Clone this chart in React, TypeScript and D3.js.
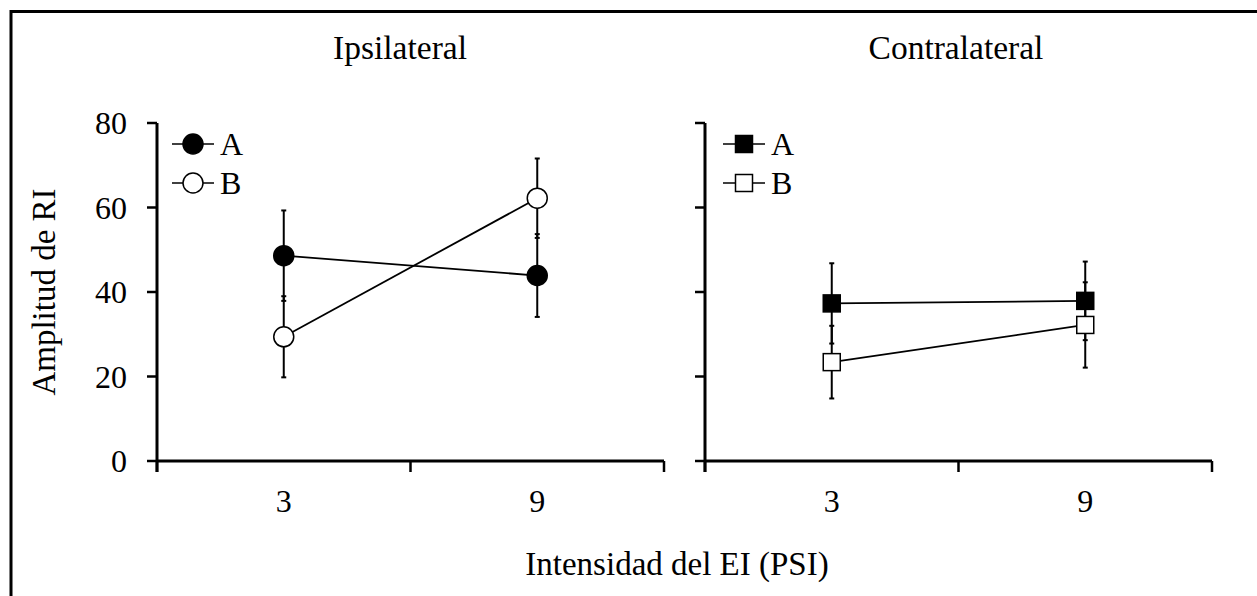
import React from "react";
import * as d3 from "d3";

// Stimulus intensities (PSI) on the x axis
const intensities = ["3", "9"];
const yTicks = [0, 20, 40, 60, 80];
const panelTitles = ["Ipsilateral", "Contralateral"];
const seriesNames = ["A", "B"];

// Ipsilateral: mean response amplitude and error per intensity
const ipsiA = [48.6, 43.9];
const ipsiAErr = [10.7, 9.8];
const ipsiB = [29.4, 62.2];
const ipsiBErr = [9.6, 9.4];

// Contralateral
const contraA = [37.3, 37.9];
const contraAErr = [9.5, 9.3];
const contraB = [23.4, 32.2];
const contraBErr = [8.6, 10.1];

const W = 1257;
const H = 596;
const FONT = "'Liberation Serif', 'Times New Roman', serif";

type Series = { name: string; values: number[]; errs: number[]; filled: boolean };

const panels = [
  {
    title: panelTitles[0],
    titleX: 400,
    x0: 157,
    x1: 664,
    shape: "circle",
    series: [
      { name: seriesNames[0], values: ipsiA, errs: ipsiAErr, filled: true },
      { name: seriesNames[1], values: ipsiB, errs: ipsiBErr, filled: false },
    ] as Series[],
    legendX: 193,
  },
  {
    title: panelTitles[1],
    titleX: 956,
    x0: 705,
    x1: 1212,
    shape: "square",
    series: [
      { name: seriesNames[0], values: contraA, errs: contraAErr, filled: true },
      { name: seriesNames[1], values: contraB, errs: contraBErr, filled: false },
    ] as Series[],
    legendX: 744,
  },
];

const y = d3.scaleLinear().domain([0, 80]).range([461, 123]);

function Marker({ shape, cx, cy, filled }: { shape: string; cx: number; cy: number; filled: boolean }) {
  const fill = filled ? "#000" : "#fff";
  if (shape === "circle") {
    return <circle cx={cx} cy={cy} r={10} fill={fill} stroke="#000" strokeWidth={1.5} />;
  }
  const s = 17;
  return <rect x={cx - s / 2} y={cy - s / 2} width={s} height={s} fill={fill} stroke="#000" strokeWidth={1.5} />;
}

export default function App() {
  const line = d3.line<[number, number]>();
  return (
    <svg
      width={W}
      height={H}
      style={{ position: "absolute", left: 0, top: 0, display: "block", background: "#fff" }}
      fontFamily={FONT}
    >
      <rect x={11} y={11.5} width={W + 20} height={H + 20} fill="none" stroke="#000" strokeWidth={3} />

      {panels.map((p, pi) => {
        const x = d3.scaleBand<string>().domain(intensities).range([p.x0, p.x1]);
        const cx = (c: string) => (x(c) as number) + x.bandwidth() / 2;
        const boundaries = [p.x0, p.x0 + x.bandwidth(), p.x1];
        return (
          <g key={pi}>
            <text x={p.titleX} y={59} fontSize={33.5} textAnchor="middle">
              {p.title}
            </text>

            {/* y axis */}
            <line x1={p.x0} x2={p.x0} y1={y(80)} y2={y(0) + 11} stroke="#000" strokeWidth={3} />
            {yTicks.map((t) => (
              <g key={t}>
                <line x1={p.x0 - 10} x2={p.x0} y1={y(t)} y2={y(t)} stroke="#000" strokeWidth={2.5} />
                {pi === 0 && (
                  <text x={127} y={y(t) + 11} fontSize={32} textAnchor="end">
                    {t}
                  </text>
                )}
              </g>
            ))}

            {/* x axis */}
            <line x1={p.x0} x2={p.x1} y1={y(0)} y2={y(0)} stroke="#000" strokeWidth={3} />
            {boundaries.map((b, i) => (
              <line key={i} x1={b} x2={b} y1={y(0)} y2={y(0) + 11} stroke="#000" strokeWidth={2.5} />
            ))}
            {intensities.map((c) => (
              <text key={c} x={cx(c)} y={512} fontSize={32} textAnchor="middle">
                {c}
              </text>
            ))}

            {/* error bars */}
            {p.series.map((s, si) =>
              s.values.map((v, i) => {
                const px = cx(intensities[i]);
                const top = y(v + s.errs[i]);
                const bot = y(v - s.errs[i]);
                return (
                  <g key={`${si}-${i}`} stroke="#000" strokeWidth={2}>
                    <line x1={px} x2={px} y1={top} y2={bot} />
                    <line x1={px - 2.5} x2={px + 2.5} y1={top} y2={top} />
                    <line x1={px - 2.5} x2={px + 2.5} y1={bot} y2={bot} />
                  </g>
                );
              })
            )}

            {/* series lines */}
            {p.series.map((s, si) => (
              <path
                key={si}
                d={line(s.values.map((v, i) => [cx(intensities[i]), y(v)]) as [number, number][]) || ""}
                fill="none"
                stroke="#000"
                strokeWidth={1.8}
              />
            ))}

            {/* markers */}
            {p.series.map((s, si) =>
              s.values.map((v, i) => (
                <Marker key={`${si}-${i}`} shape={p.shape} cx={cx(intensities[i])} cy={y(v)} filled={s.filled} />
              ))
            )}

            {/* legend */}
            {p.series.map((s, si) => {
              const ly = 144 + si * 39;
              return (
                <g key={si}>
                  <line x1={p.legendX - 21} x2={p.legendX + 21} y1={ly} y2={ly} stroke="#000" strokeWidth={1.5} />
                  <Marker shape={p.shape} cx={p.legendX} cy={ly} filled={s.filled} />
                  <text x={p.legendX + 27} y={ly + 11} fontSize={32}>
                    {s.name}
                  </text>
                </g>
              );
            })}
          </g>
        );
      })}

      <text transform={`translate(55, ${y(40)}) rotate(-90)`} fontSize={33} textAnchor="middle">
        Amplitud de RI
      </text>
      <text x={677} y={575} fontSize={33} textAnchor="middle">
        Intensidad del EI (PSI)
      </text>
    </svg>
  );
}
